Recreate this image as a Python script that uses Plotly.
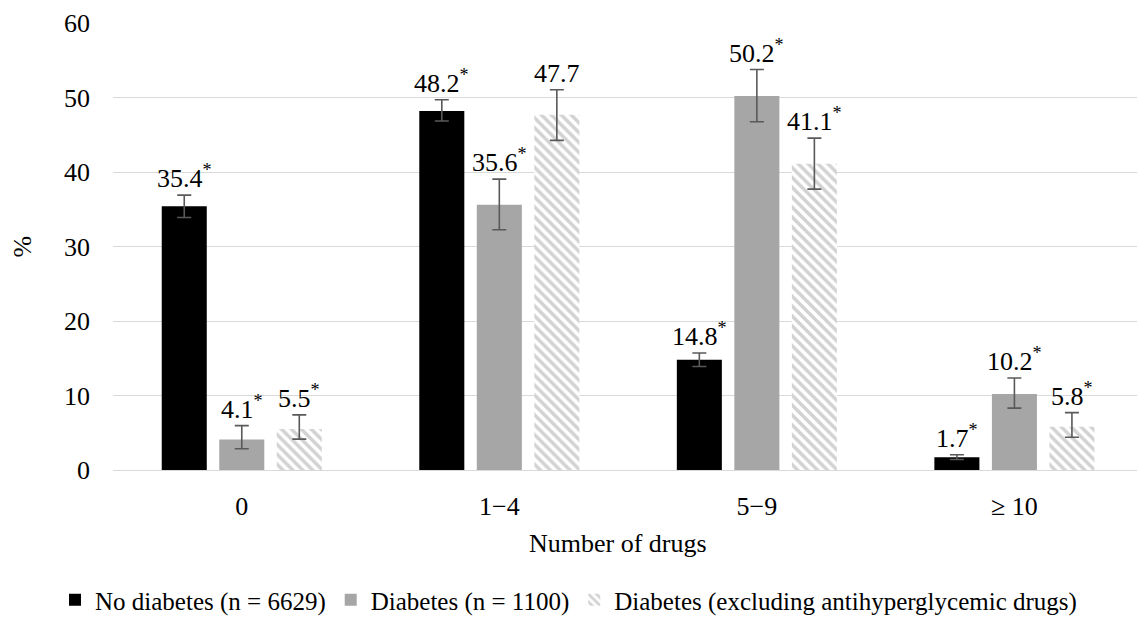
import plotly.graph_objects as go

# ---- data ----
categories = ["0", "1\u22124", "5\u22129", "\u2265 10"]
series_names = [
    "No diabetes (n = 6629)",
    "Diabetes (n = 1100)",
    "Diabetes (excluding antihyperglycemic drugs)",
]
no_diabetes = [35.4, 48.2, 14.8, 1.7]
no_diabetes_err_plus = [1.5, 1.5, 0.9, 0.35]
no_diabetes_err_minus = [1.5, 1.35, 0.9, 0.3]
no_diabetes_sig = [True, True, True, True]

diabetes = [4.1, 35.6, 50.2, 10.2]
diabetes_err_plus = [1.85, 3.45, 3.55, 2.15]
diabetes_err_minus = [1.25, 3.35, 3.45, 1.9]
diabetes_sig = [True, True, True, True]

diabetes_excl = [5.5, 47.7, 41.1, 5.8]
diabetes_excl_err_plus = [1.9, 3.35, 3.45, 1.9]
diabetes_excl_err_minus = [1.35, 3.45, 3.4, 1.4]
diabetes_excl_sig = [True, False, True, True]

y_ticks = [0, 10, 20, 30, 40, 50, 60]

# ---- style ----
FONT = "Liberation Serif"
FS = 26
LEG_FS = 25
BARGAP = 0.33
BARGROUPGAP = 0.217
ERR_COLOR = "#595959"


def tfont(size=FS):
    return dict(family=FONT, size=size, color="#000000")


x_idx = list(range(len(categories)))

fig = go.Figure()

series = [
    (no_diabetes, no_diabetes_err_plus, no_diabetes_err_minus, no_diabetes_sig,
     dict(color="#000000")),
    (diabetes, diabetes_err_plus, diabetes_err_minus, diabetes_sig,
     dict(color="#a6a6a6")),
    (diabetes_excl, diabetes_excl_err_plus, diabetes_excl_err_minus, diabetes_excl_sig,
     dict(color="#ffffff",
          pattern=dict(shape="\\", fgcolor="#a6a6a6", bgcolor="#ffffff",
                       size=7, solidity=0.5, fillmode="overlay"))),
]

for name, (vals, ep, em, sig, marker) in zip(series_names, series):
    fig.add_trace(go.Bar(
        x=x_idx, y=vals, name=name,
        marker=dict(line=dict(width=0), **marker),
        error_y=dict(type="data", array=ep, arrayminus=em, symmetric=False,
                     color=ERR_COLOR, thickness=1.6, width=7),
    ))

# value labels above error bars
n_series = len(series)
slot = (1 - BARGAP) / n_series
for k, (vals, ep, em, sig, marker) in enumerate(series):
    off = (k - (n_series - 1) / 2) * slot
    for i, (v, e, s) in enumerate(zip(vals, ep, sig)):
        txt = f"{v:.1f}" + ("<sup>*</sup>" if s else "")
        fig.add_annotation(
            x=i + off, y=v + e, xref="x", yref="y",
            text=txt, showarrow=False, yanchor="bottom", xanchor="center",
            font=tfont(),
        )

# axis titles
fig.add_annotation(
    x=-0.0879, y=0.5, xref="paper", yref="paper", text="%",
    textangle=-90, showarrow=False, xanchor="center", yanchor="middle",
    font=tfont(),
)
fig.add_annotation(
    x=0.493, y=-(544 - 470.3) / 447, xref="paper", yref="paper",
    text="Number of drugs", showarrow=False, xanchor="center", yanchor="middle",
    font=tfont(),
)

fig.update_layout(
    width=1137, height=621,
    margin=dict(l=113, r=0, t=23, b=151, pad=0, autoexpand=False),
    paper_bgcolor="#ffffff", plot_bgcolor="#ffffff",
    barmode="group", bargap=BARGAP, bargroupgap=BARGROUPGAP,
    showlegend=True,
    legend=dict(
        orientation="h", xref="container", yref="container",
        x=55 / 1137, xanchor="left", y=1 - 600 / 621, yanchor="middle",
        font=tfont(LEG_FS),
        itemwidth=30, tracegroupgap=0, bgcolor="rgba(0,0,0,0)",
    ),
    xaxis=dict(
        type="linear", range=[-0.5, 3.476],
        tickmode="array", tickvals=x_idx, ticktext=categories,
        showgrid=False, zeroline=False, showline=False, ticks="",
        ticklabelstandoff=18, tickfont=tfont(),
        fixedrange=True,
    ),
    yaxis=dict(
        range=[0, 60], tickmode="array", tickvals=y_ticks,
        showgrid=True, gridcolor="#d9d9d9", gridwidth=1.3,
        zeroline=True, zerolinecolor="#d9d9d9", zerolinewidth=1.3,
        showline=False, ticks="", ticklabelstandoff=22, tickfont=tfont(),
        fixedrange=True,
    ),
)

fig.write_html(
    "out.html",
    config={"displayModeBar": False},
    post_script="document.body.style.margin='0px';",
)
